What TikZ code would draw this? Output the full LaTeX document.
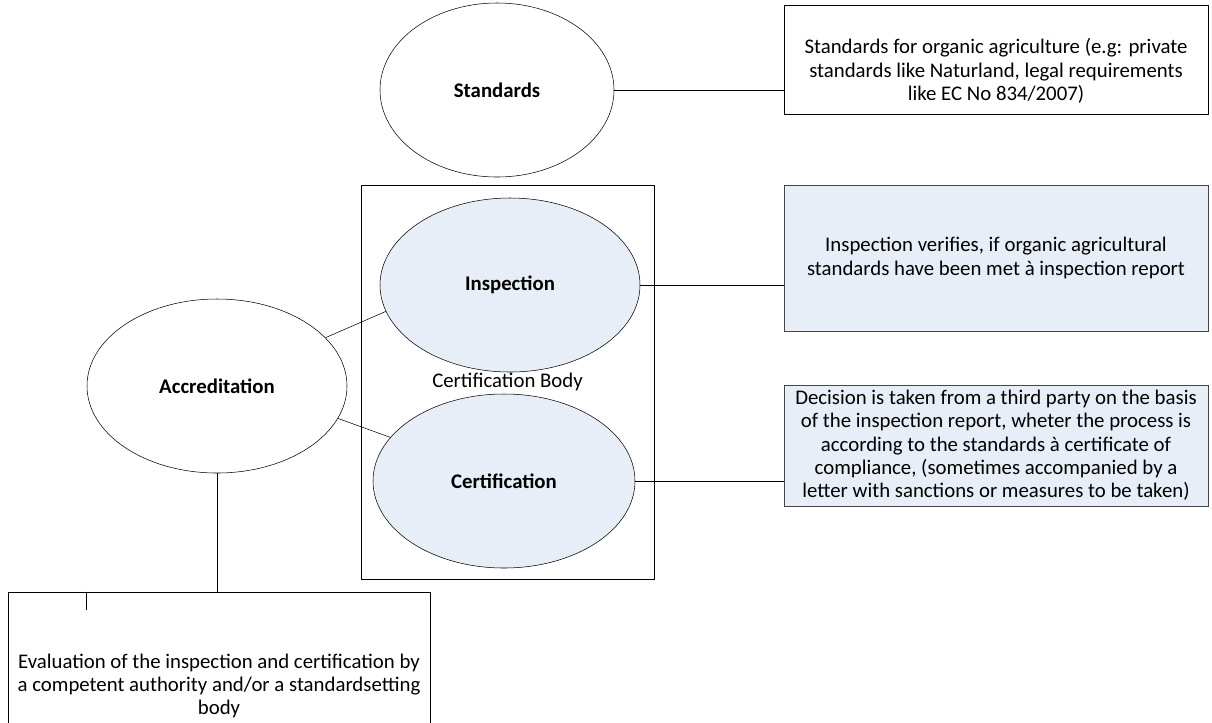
\documentclass[tikz,border=0pt]{standalone}
\usepackage{fontspec}
\setmainfont{Carlito}
\usetikzlibrary{shapes.geometric}

\definecolor{cbfill}{RGB}{232,238,247}
\definecolor{boxedge}{RGB}{70,70,70}
\newcommand{\bodyfont}{\fontsize{15.6}{17.5}\selectfont}

\tikzset{
  oval/.style={ellipse, draw, thin, inner sep=0pt, font=\bodyfont\bfseries},
  plainbox/.style={rectangle, draw, thin, inner sep=0pt, align=center},
  bluebox/.style={plainbox, draw=boxedge, line width=0.7pt, fill=cbfill},
}

\begin{document}
\begin{tikzpicture}[x=0.75pt, y=-0.75pt, font=\bodyfont]
\clip (0,0) rectangle (1212,722);
\fill[white] (0,0) rectangle (1212,722);
% certification body frame
\node[plainbox, minimum width=219.75pt, minimum height=295.5pt] (cbody) at (507.5,382) {Certification Body};
% ovals
\node[oval, minimum width=175.5pt, minimum height=130.5pt] (std) at (497,90) {Standards};
\node[oval, fill=cbfill, minimum width=195pt, minimum height=130.5pt] (insp) at (510,285) {Inspection};
\node[oval, fill=cbfill, minimum width=196.5pt, minimum height=130.5pt] (cert) at (504,481) {Certification};
\node[oval, minimum width=195pt, minimum height=130.5pt] (accr) at (217,386) {Accreditation};
% text boxes
\node[plainbox, minimum width=318pt, minimum height=81.75pt] (stdbox) at (996,59.5) {};
\node[align=center] (stdtext) at (996,71) {Standards for organic agriculture (e.g: private\\standards like Naturland, legal requirements\\like EC No 834/2007)};
\node[bluebox, minimum width=318pt, minimum height=109.5pt] (inspbox) at (996,258) {Inspection verifies, if organic agricultural\\standards have been met à inspection report};
\node[bluebox, minimum width=318pt, minimum height=90.75pt] (certbox) at (996,445.5) {Decision is taken from a third party on the basis\\of the inspection report, wheter the process is\\according to the standards à certificate of\\compliance, (sometimes accompanied by a\\letter with sanctions or measures to be taken)};
\node[plainbox, minimum width=316.5pt, minimum height=141pt] (evalbox) at (219,686) {Evaluation of the inspection and certification by\\a competent authority and/or a standardsetting\\body};
% connectors
\draw (std.east) -- (std.east -| stdbox.west);
\draw (insp.east) -- (insp.east -| inspbox.west);
\draw (cert.east) -- (cert.east -| certbox.west);
\draw (accr.24) -- (insp.192);
\draw (accr.345) -- (cert.159);
\draw (accr.south) -- (accr.south |- evalbox.north);
\draw ([xshift=59.25pt]evalbox.north west) -- ++(0,18);
\end{tikzpicture}
\end{document}
